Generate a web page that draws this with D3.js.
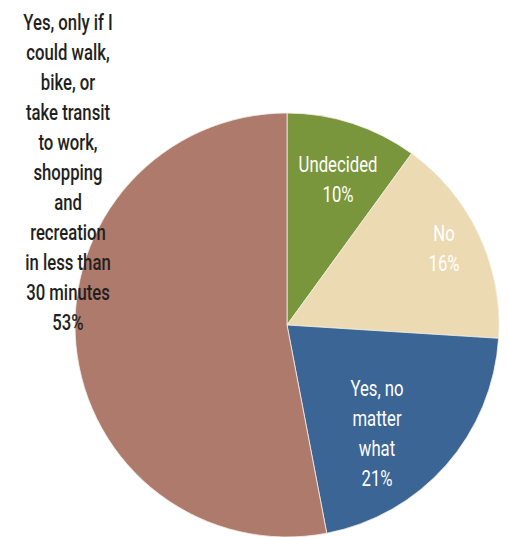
<!DOCTYPE html>
<meta charset="utf-8">
<script src="https://d3js.org/d3.v7.min.js"></script>
<style>
  body { margin: 0; background: #fff; }
  text { font-family: "Roboto", sans-serif; }
</style>
<div id="pie"></div>
<script>
    // data
    const categories = ["Undecided", "No", "Yes, no matter what", "Yes, only if I could walk, bike, or take transit to work, shopping and recreation in less than 30 minutes"];
    const values = [10, 16, 21, 53];
    const labelLines = [
        ["Undecided", "10%"],
        ["No", "16%"],
        ["Yes, no", "matter", "what", "21%"],
        ["Yes, only if I", "could walk,", "bike, or", "take transit", "to work,", "shopping", "and", "recreation", "in less than", "30 minutes", "53%"]
    ];
    const colors = ["#7a963c", "#ecdab3", "#3b6595", "#ad7a6b"];

    const width = 508, height = 537;
    const cx = 287, cy = 325, radius = 212;

    // label anchors (centre of text block)
    const labelPos = [[338, 179], [444, 248], [377, 433], [68, 172]];
    const labelFill = ["#fff", "#fff", "#fff", "#231f20"];
    const labelWeight = [400, 400, 400, 500];
    const lineH = 30;

    const svg = d3.select("#pie")
      .append("svg")
        .attr("width", width)
        .attr("height", height);

    const pie = d3.pie().sort(null).value(d => d)(values);
    const arc = d3.arc().innerRadius(0).outerRadius(radius);

    svg.append("g")
        .attr("transform", `translate(${cx}, ${cy})`)
      .selectAll("path")
      .data(pie)
      .join("path")
        .attr("d", arc)
        .attr("fill", (d, i) => colors[i])
        .attr("stroke", "#f4efe8")
        .attr("stroke-width", 0.8);

    const labels = svg.selectAll("text.lbl")
      .data(labelLines)
      .join("text")
        .attr("class", "lbl")
        .attr("text-anchor", "middle")
        .attr("font-size", 22)
        .attr("font-weight", (d, i) => labelWeight[i])
        .attr("fill", (d, i) => labelFill[i])
        .attr("transform", (d, i) => {
            const y0 = labelPos[i][1] - (d.length - 1) * lineH / 2 + 8;
            return `translate(${labelPos[i][0]}, ${y0}) scale(0.76, 1)`;
        });

    labels.selectAll("tspan")
      .data(d => d)
      .join("tspan")
        .attr("x", 0)
        .attr("y", (d, j) => j * lineH)
        .text(d => d);
</script>
